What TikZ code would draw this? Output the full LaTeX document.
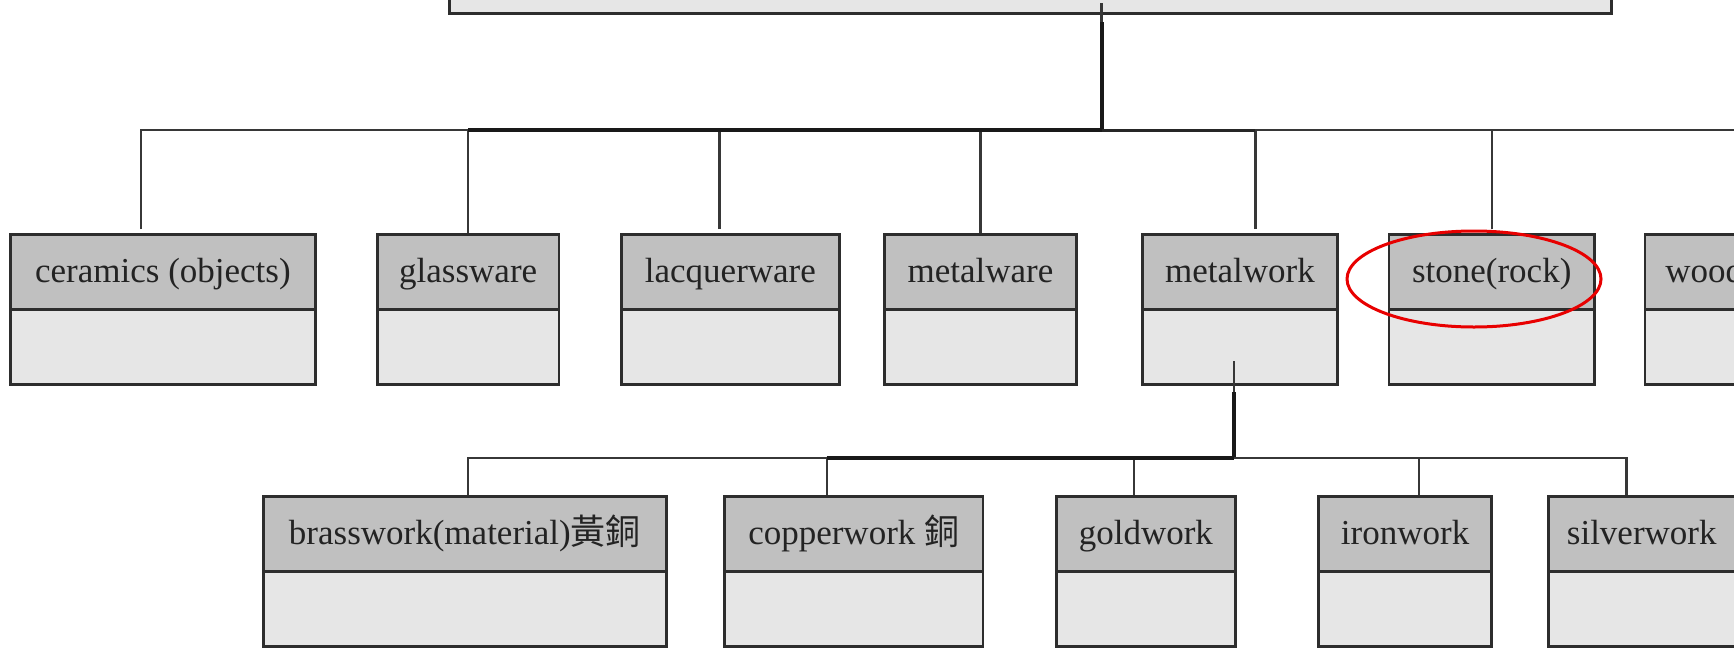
\documentclass[tikz,border=0pt]{standalone}
\usepackage{fontspec}
\setmainfont{Liberation Serif}
\newfontfamily\cjk{Noto Sans CJK TC}
\usetikzlibrary{shapes.geometric}
\definecolor{hdrgray}{RGB}{192,192,192}
\definecolor{bdygray}{RGB}{230,230,230}
\definecolor{boxline}{RGB}{45,45,45}
\definecolor{wiregray}{RGB}{55,55,55}
\definecolor{txtgray}{RGB}{35,35,35}
\definecolor{markred}{RGB}{232,0,0}
\tikzset{
  hdr/.style={draw=boxline, line width=2.8pt, fill=hdrgray, inner sep=0pt, anchor=north west,
    text=txtgray, font=\fontsize{35}{40}\selectfont, text height=28pt, text depth=7pt},
  bdy/.style={draw=boxline, line width=2.8pt, fill=bdygray, inner sep=0pt, anchor=north west},
  wire/.style={draw=wiregray, line width=2.2pt},
  trunk/.style={draw=black!90, line width=4pt},
  midtrunk/.style={draw=black!85, line width=3pt},
  gapped/.style={shorten <=4pt},
  redring/.style={ellipse, draw=markred, line width=3pt, inner sep=0pt},
}
% name, x1, x2, ytop, half height, text
\newcommand\classbox[6]{%
  \node[hdr, minimum width={(#3-#2)*1pt}, minimum height={#5*1pt}] (#1) at (#2,#4) {#6};
  \node[bdy, minimum width={(#3-#2)*1pt}, minimum height={#5*1pt}] (#1b) at (#2,#4+#5) {};
}
\begin{document}
\begin{tikzpicture}[x=1pt, y=-1pt]
\useasboundingbox (0,0) rectangle (1734,648);
\fill[white] (0,0) rectangle (1734,648);
\clip (0,0) rectangle (1734,648);

% root box (cut off at top)
\node[bdy, anchor=south west, minimum width=1162pt, minimum height=60pt] (root) at (448,15) {};

% level 1
\classbox{ceramics}{9}{314}{233}{75}{ceramics (objects)}
\classbox{glassware}{376}{557.6}{233}{75}{glassware}
\classbox{lacquerware}{620}{838}{233}{75}{lacquerware}
\classbox{metalware}{883}{1075}{233}{75}{metalware}
\classbox{metalwork}{1141}{1336}{233}{75}{metalwork}
\classbox{stone}{1387.6}{1593}{233}{75}{stone(rock)}
\classbox{wood}{1643.5}{1800}{233}{75}{\makebox[156.5pt][l]{\hspace*{20.5pt}wood}}

% level 2
\classbox{brass}{262}{665}{495}{75}{brasswork(material){\cjk 黃銅}}
\classbox{copper}{723}{981.6}{495}{75}{copperwork {\cjk 銅}}
\classbox{gold}{1055}{1234}{495}{75}{goldwork}
\classbox{iron}{1317.4}{1490}{495}{75}{ironwork}
\classbox{silver}{1547}{1800}{495}{75}{\makebox[253pt][l]{\hspace*{18.5pt}silverwork}}

% level 1 connectors
\coordinate (j0) at (1101.5,130);
\coordinate (t1) at (1101.5,22);
\coordinate (busend) at (1740,130);
\coordinate (mwc) at ([xshift=15.5pt]metalwork.north);
\draw[wire] (root.south -| t1) ++(0,-12) -- (t1);
\draw[trunk] (t1) -- (j0);
\draw[wire,gapped] ([xshift=-22pt]ceramics.north) |- (j0);
\draw[wire] (glassware.north) |- (j0);
\draw[wire,gapped] ([xshift=-11pt]lacquerware.north) |- (j0);
\draw[wire] (metalware.north) |- (j0);
\draw[wire,gapped] (mwc) |- (j0);
\draw[wire,gapped] (stone.north) |- (j0);
\draw[wire] (j0) -- (busend);
\draw[trunk] (glassware.north |- j0) -- (j0);
\draw[midtrunk] (j0) -- (mwc |- j0);

% level 2 connectors
\coordinate (j1) at (1234,458);
\coordinate (t2) at (1234,392);
\coordinate (cpc) at ([xshift=-27pt]copper.north);
\draw[wire] (metalworkb.center -| t2) ++(0,14.5) -- (t2);
\draw[trunk] (t2) -- (j1);
\draw[wire] ([xshift=3pt]brass.north) |- (j1);
\draw[wire] (cpc) |- (j1);
\draw[wire] ([xshift=-12pt]gold.north) |- (j1);
\draw[wire] ([xshift=14pt]iron.north) |- (j1);
\draw[wire] ([xshift=-48.5pt]silver.north) |- (j1);
\draw[trunk] (cpc |- j1) -- (j1);

% red highlight
\node[redring, minimum width=254pt, minimum height=96pt] (ring) at (1474,279) {};
\end{tikzpicture}
\end{document}
